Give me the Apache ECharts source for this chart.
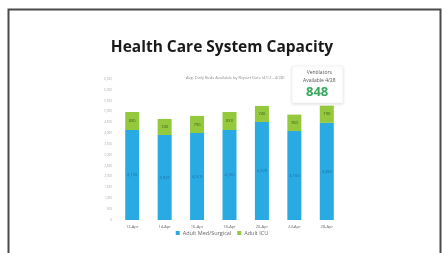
<!DOCTYPE html>
<html>
<head>
<meta charset="utf-8">
<script src="https://cdn.jsdelivr.net/npm/echarts@6/dist/echarts.min.js"></script>
<style>
  html, body { margin: 0; padding: 0; background: #fff; }
  #chart { width: 444px; height: 253px; }
</style>
</head>
<body>
<div id="chart"></div>
<script>
// data
var categories = ['12-Apr', '14-Apr', '16-Apr', '18-Apr', '20-Apr', '24-Apr', '28-Apr'];
var medSurg = [4150, 3920, 4010, 4150, 4520, 4100, 4480];
var icu = [830, 740, 790, 830, 740, 760, 790];
var seriesNames = ['Adult Med/Surgical', 'Adult ICU'];
var ventilators = 848;
var ventLabel = ['Ventilators', 'Available 4/28'];

var chart = echarts.init(document.getElementById('chart'));

var smallFont = 'Open Sans';

var option = {
	backgroundColor: '#ffffff',
	animation: false,
	title: [{
		text: 'Health Care System Capacity',
		left: 'center',
		top: 35,
		textStyle: { fontFamily: smallFont, fontSize: 15.5, fontWeight: 'bold', color: '#1a1a1a' }
	}, {
		text: 'Avg. Daily Beds Available by Report Date (4/12 - 4/28)',
		left: 181,
		top: 71,
		textStyle: { fontFamily: smallFont, fontSize: 4, fontWeight: 'normal', color: '#8a8a8a' }
	}],
	legend: {
		data: seriesNames,
		bottom: 12,
		left: 'center',
		itemWidth: 4,
		itemHeight: 4,
		itemGap: 6,
		icon: 'rect',
		textStyle: { fontFamily: smallFont, fontSize: 5.5, color: '#666', padding: [0, 0, 0, -2] }
	},
	grid: { left: 116, right: 101, top: 79, bottom: 33, containLabel: false },
	xAxis: {
		type: 'category',
		data: categories,
		axisLine: { show: false },
		axisTick: { show: false },
		axisLabel: { fontFamily: smallFont, fontSize: 4, color: '#666', margin: 5 }
	},
	yAxis: {
		type: 'value',
		min: 0,
		max: 6500,
		interval: 500,
		splitLine: { show: false },
		axisLine: { show: false },
		axisTick: { show: false },
		axisLabel: { fontFamily: smallFont, fontSize: 3, color: '#aaa', margin: 4 }
	},
	series: [{
		name: seriesNames[0],
		type: 'bar',
		stack: 'beds',
		data: medSurg,
		barWidth: 14,
		itemStyle: { color: '#29aae2' },
		label: {
			show: true, position: 'inside',
			fontFamily: smallFont, fontSize: 4, color: '#1d6ea0',
			formatter: function (p) { return p.value.toLocaleString('en-US'); }
		}
	}, {
		name: seriesNames[1],
		type: 'bar',
		stack: 'beds',
		data: icu,
		barWidth: 14,
		itemStyle: { color: '#94c83d' },
		label: {
			show: true, position: 'inside',
			fontFamily: smallFont, fontSize: 4, color: '#3d5a1a'
		}
	}],
	graphic: [{
		// outer frame
		type: 'rect',
		shape: { x: 8.5, y: 9.5, width: 432, height: 250 },
		style: { fill: 'none', stroke: '#4a4a4a', lineWidth: 2 },
		silent: true
	}, {
		// ventilator callout
		type: 'rect',
		shape: { x: 292, y: 66, width: 51, height: 37 },
		style: {
			fill: '#fff', stroke: '#f0f0f0', lineWidth: 0.5,
			shadowBlur: 3, shadowColor: 'rgba(0,0,0,0.12)', shadowOffsetY: 1
		},
		z: 10
	}, {
		type: 'text',
		left: 303, top: 69,
		z: 11,
		style: {
			text: ventLabel.join('\n'),
			fontFamily: smallFont, fontSize: 5, lineHeight: 8,
			fill: '#555', textAlign: 'center', x: 15
		}
	}, {
		type: 'text',
		left: 306, top: 86,
		z: 11,
		style: {
			text: String(ventilators),
			fontFamily: smallFont, fontSize: 13, fontWeight: 'bold',
			fill: '#36a85c'
		}
	}]
};

chart.setOption(option);
</script>
</body>
</html>
